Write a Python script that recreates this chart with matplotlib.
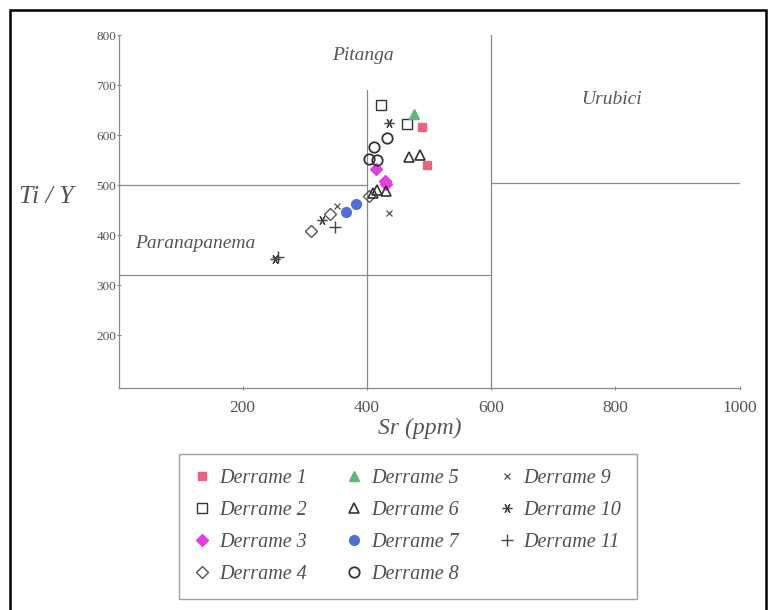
import matplotlib
matplotlib.use('Agg')
import matplotlib.pyplot as plt
from matplotlib.patches import Rectangle

# Data (Sr in ppm, Ti/Y ratio)
d1_sr = [489, 496]
d1_ti = [617, 541]
d2_sr = [423, 464]
d2_ti = [661, 623]
d3_sr = [415, 429, 431]
d3_ti = [532, 508, 502]
d4_sr = [310, 341, 404]
d4_ti = [408, 443, 478]
d5_sr = [475]
d5_ti = [643]
d6_sr = [467, 485, 410, 416, 430]
d6_ti = [557, 561, 484, 490, 488]
d7_sr = [366, 383]
d7_ti = [447, 463]
d8_sr = [433, 411, 403, 416]
d8_ti = [595, 577, 553, 550]
d9_sr = [435, 351]
d9_ti = [445, 458]
d10_sr = [435, 328, 252]
d10_ti = [625, 431, 353]
d11_sr = [349, 256]
d11_ti = [416, 356]

x_ticks = [200, 400, 600, 800, 1000]
y_ticks = [200, 300, 400, 500, 600, 700, 800]

serif = 'Liberation Serif'
grey = '#555555'
dark = '#333333'

fig = plt.figure(figsize=(7.71, 6.10), dpi=100)
ax = fig.add_axes([118.5 / 771, 1 - 388 / 610, 621.2 / 771, 353 / 610])

# Field boundaries
line_kw = dict(color='#8a8a8a', lw=0.9, zorder=1)
ax.plot([0, 400], [500, 500], **line_kw)
ax.plot([0, 600], [320, 320], **line_kw)
ax.plot([400, 400], [94, 690], **line_kw)
ax.plot([600, 600], [94, 800], **line_kw)
ax.plot([600, 1000], [505, 505], **line_kw)

# Series
ax.plot(d1_sr, d1_ti, 's', ms=6, color='#e8657e', mec='#e8657e', label='Derrame 1', zorder=3)
ax.plot(d2_sr, d2_ti, 's', ms=6.5, mfc='none', mec=dark, mew=1.0, label='Derrame 2', zorder=3)
ax.plot(d3_sr, d3_ti, 'D', ms=6, color='#e23fe0', label='Derrame 3', zorder=3)
ax.plot(d4_sr, d4_ti, 'D', ms=6, mfc='none', mec='#555555', mew=1.0, label='Derrame 4', zorder=3)
ax.plot(d5_sr, d5_ti, '^', ms=7.5, color='#5fb877', label='Derrame 5', zorder=3)
ax.plot(d6_sr, d6_ti, '^', ms=7.5, mfc='none', mec=dark, mew=1.2, label='Derrame 6', zorder=3)
ax.plot(d7_sr, d7_ti, 'o', ms=7, color='#4f6fd6', label='Derrame 7', zorder=3)
ax.plot(d8_sr, d8_ti, 'o', ms=7.5, mfc='none', mec=dark, mew=1.3, label='Derrame 8', zorder=3)
ax.plot(d9_sr, d9_ti, 'x', ms=5, color='#555555', mew=0.9, label='Derrame 9', zorder=3)
ax.plot(d10_sr, d10_ti, marker=(6, 2, 90), ls='none', ms=7, color='#444444', mew=0.9,
        label='Derrame 10', zorder=3)
ax.plot(d11_sr, d11_ti, '+', ms=8, color='#444444', mew=1.0, label='Derrame 11', zorder=3)

# Field names
ax.text(394, 760, 'Pitanga', fontsize=14, style='italic', family=serif, color=grey,
        ha='center', va='center')
ax.text(793, 670, 'Urubici', fontsize=14, style='italic', family=serif, color=grey,
        ha='center', va='center')
ax.text(123, 384, 'Paranapanema', fontsize=14, style='italic', family=serif, color=grey,
        ha='center', va='center')

# Axes
ax.set_xlim(0, 1000)
ax.set_ylim(94, 800)
ax.set_xticks(x_ticks)
ax.set_yticks(y_ticks)
for s in ['top', 'right']:
    ax.spines[s].set_visible(False)
for s in ['left', 'bottom']:
    ax.spines[s].set_color('#8a8a8a')
    ax.spines[s].set_linewidth(0.9)
ax.tick_params(axis='both', direction='inout', length=3, width=0.8, color='#8a8a8a',
               labelcolor=grey)
ax.tick_params(axis='x', labelsize=12.5, pad=7)
ax.tick_params(axis='y', labelsize=9.5, pad=0)
for lab in ax.get_xticklabels() + ax.get_yticklabels():
    lab.set_family(serif)

# Axis titles
fig.text(420 / 771, 1 - 428 / 610, 'Sr (ppm)', fontsize=17, style='italic', family=serif,
         color=grey, ha='center', va='center')
fig.text(46 / 771, 1 - 197 / 610, 'Ti / Y', fontsize=18.5, style='italic', family=serif,
         color=grey, ha='center', va='center')

# Legend
leg = fig.legend(loc='upper left', bbox_to_anchor=(179 / 771, 1 - 454 / 610), ncol=3,
                 frameon=True, fancybox=False, edgecolor='#8a8a8a', borderaxespad=0,
                 handlelength=0.8, handletextpad=0.45, columnspacing=1.95, labelspacing=0.64,
                 borderpad=0.75,
                 prop={'family': serif, 'style': 'italic', 'size': 14.5})
leg.get_frame().set_linewidth(1.0)
for t in leg.get_texts():
    t.set_color('#505050')

# Outer frame
fig.patches.append(Rectangle((10 / 771, -0.1), 756 / 771, 1.1 - 10 / 610, fill=False,
                             ec='black', lw=1.8, transform=fig.transFigure))

plt.savefig('out.png', dpi=100)
